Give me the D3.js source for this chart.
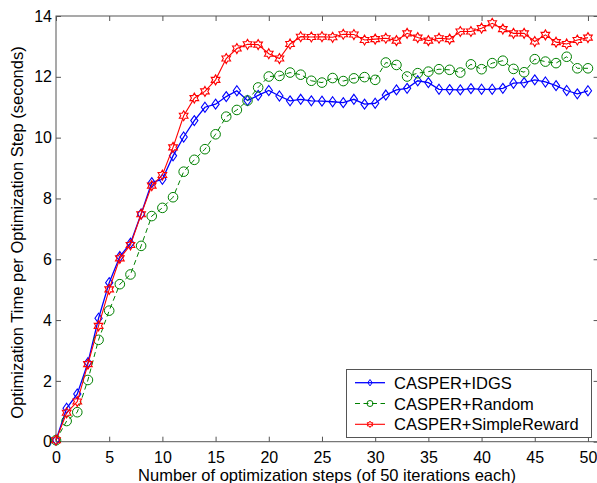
<!DOCTYPE html>
<html><head><meta charset="utf-8">
<script src="https://cdn.jsdelivr.net/npm/d3@7"></script>
<style>body{margin:0;background:#fff}svg{display:block}text{font-family:"Liberation Sans",Arial,sans-serif}</style>
</head><body><div id="chart"></div>
<script>
const steps = d3.range(0, 51);
const idgs = [0.05,1.10,1.57,2.60,4.06,5.23,6.09,6.53,7.49,8.52,8.63,9.40,10.02,10.56,11.00,11.10,11.35,11.54,11.22,11.39,11.55,11.37,11.21,11.26,11.21,11.20,11.18,11.15,11.26,11.10,11.13,11.40,11.57,11.62,11.87,11.81,11.59,11.58,11.57,11.61,11.59,11.59,11.62,11.79,11.81,11.90,11.83,11.71,11.55,11.44,11.54];
const random = [0.05,0.68,0.97,2.03,3.35,4.31,5.18,5.50,6.44,7.42,7.69,8.04,8.88,9.27,9.62,10.11,10.69,10.91,11.22,11.65,12.01,12.03,12.14,12.07,11.87,11.81,11.96,11.86,11.95,11.99,11.90,12.47,12.39,12.01,12.12,12.17,12.25,12.23,12.14,12.41,12.25,12.45,12.53,12.26,12.15,12.58,12.50,12.45,12.66,12.28,12.28];
const simple = [0.05,0.95,1.32,2.55,3.81,5.01,6.03,6.47,7.48,8.42,8.77,9.68,10.72,11.30,11.52,11.90,12.60,12.93,13.07,13.06,12.76,12.60,13.08,13.32,13.31,13.32,13.30,13.40,13.39,13.21,13.24,13.27,13.19,13.43,13.29,13.19,13.27,13.24,13.49,13.49,13.60,13.76,13.57,13.43,13.43,13.16,13.38,13.14,13.08,13.21,13.29];
const xTicks = [0,5,10,15,20,25,30,35,40,45,50];
const yTicks = [0,2,4,6,8,10,12,14];
const seriesNames = ["CASPER+IDGS","CASPER+Random","CASPER+SimpleReward"];
const seriesColors = ["#0000ff","#008000","#ff0000"];

const W = 597, H = 483;
const L = 56, R = 598.6, T = 16, B = 441.7;
const svg = d3.select("#chart").append("svg").attr("width", W).attr("height", H);
const x = d3.scaleLinear().domain([0, 51]).range([L, R]);
const y = d3.scaleLinear().domain([0, 14]).range([B, T]);
const axisColor = "#555";

svg.append("rect").attr("x", L).attr("y", T).attr("width", R - L).attr("height", B - T)
  .attr("fill", "none").attr("stroke", axisColor).attr("stroke-width", 1);

const gx = svg.append("g").attr("transform", `translate(0,${B})`)
  .call(d3.axisBottom(x).tickValues(xTicks).tickSize(-5).tickPadding(10).tickFormat(d3.format("d")));
const gxt = svg.append("g").attr("transform", `translate(0,${T})`)
  .call(d3.axisTop(x).tickValues(xTicks).tickSize(-5).tickFormat(""));
const gy = svg.append("g").attr("transform", `translate(${L},0)`)
  .call(d3.axisLeft(y).tickValues(yTicks).tickSize(-5).tickPadding(4).tickFormat(d3.format("d")));
const gyr = svg.append("g").attr("transform", `translate(${R},0)`)
  .call(d3.axisRight(y).tickValues(yTicks).tickSize(-5).tickFormat(""));
[gx, gxt, gy, gyr].forEach(g => {
  g.select(".domain").remove();
  g.selectAll(".tick line").attr("stroke", axisColor);
  g.selectAll("text").attr("fill", "#000").style("font-size", "16px");
});

svg.append("text").attr("x", 327).attr("y", 481).attr("text-anchor", "middle")
  .style("font-size", "16.5px").text("Number of optimization steps (of 50 iterations each)");
svg.append("text").attr("transform", `translate(23,232.5) rotate(-90)`).attr("text-anchor", "middle")
  .style("font-size", "16.5px").text("Optimization Time per Optimization Step (seconds)");

function hexagram(r) {
  const p = [];
  for (let k = 0; k < 12; k++) {
    const a = -Math.PI / 2 + k * Math.PI / 6;
    const rr = k % 2 === 0 ? r : r * 0.577;
    p.push([rr * Math.cos(a), rr * Math.sin(a)]);
  }
  return "M" + p.map(d => d.join(",")).join("L") + "Z";
}
function diamond(w, h) { return `M0,${-h}L${w},0L0,${h}L${-w},0Z`; }
const markerPaths = [diamond(3.6, 5), null, hexagram(5)];

const allSeries = [idgs, random, simple];
const widths = [1.3, 1, 1.1];
const line = d3.line().x((d, i) => x(steps[i])).y(d => y(d));
const plot = svg.append("g");
allSeries.forEach((vals, s) => {
  plot.append("path").datum(vals).attr("d", line).attr("fill", "none")
    .attr("stroke", seriesColors[s]).attr("stroke-width", widths[s])
    .attr("stroke-dasharray", s === 1 ? "5,3.5" : null);
  const g = plot.append("g").selectAll("g").data(vals).join("g")
    .attr("transform", (d, i) => `translate(${x(steps[i])},${y(d)})`);
  if (s === 1) g.append("circle").attr("r", 4.8).attr("fill", "none").attr("stroke", seriesColors[s]).attr("stroke-width", 1);
  else g.append("path").attr("d", markerPaths[s]).attr("fill", "none").attr("stroke", seriesColors[s]).attr("stroke-width", 1.1);
});

const lg = svg.append("g");
lg.append("rect").attr("x", 346.5).attr("y", 369.5).attr("width", 245).attr("height", 68)
  .attr("fill", "#fff").attr("stroke", axisColor).attr("stroke-width", 1);
const rowsY = [382.7, 403.5, 424.3];
seriesNames.forEach((name, s) => {
  const yy = rowsY[s];
  lg.append("line").attr("x1", 355).attr("x2", 385).attr("y1", yy).attr("y2", yy)
    .attr("stroke", seriesColors[s]).attr("stroke-width", widths[s])
    .attr("stroke-dasharray", s === 1 ? "5,3.5" : null);
  if (s === 1) lg.append("circle").attr("cx", 370).attr("cy", yy).attr("r", 3).attr("fill", "none").attr("stroke", seriesColors[s]);
  else lg.append("path").attr("transform", `translate(370,${yy})`)
    .attr("d", s === 0 ? diamond(2.2, 3.2) : hexagram(3.2)).attr("fill", "none").attr("stroke", seriesColors[s]);
  lg.append("text").attr("x", 394).attr("y", yy + 6).style("font-size", "16.5px").text(name);
});
</script></body></html>
